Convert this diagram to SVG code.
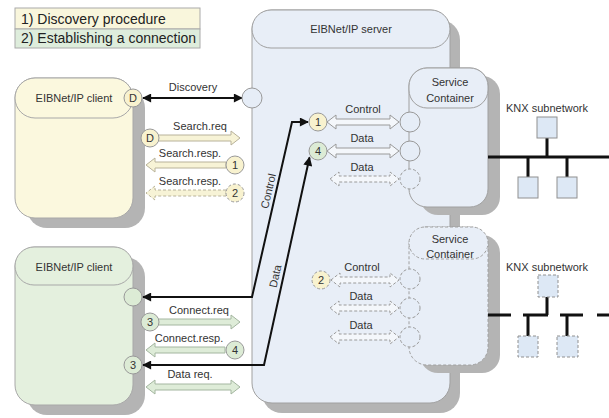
<svg xmlns="http://www.w3.org/2000/svg" width="609" height="418" viewBox="0 0 609 418">
<defs>
<style>
text{font-family:"Liberation Sans",Arial,sans-serif;font-size:11px;fill:#333}
.c{text-anchor:middle}
.lg{font-size:14px;fill:#222}
.sh{fill:#b4b4b4}
.yel{fill:#fbf8de;stroke:#a8a8a8;stroke-width:1}
.grn{fill:#e4f0de;stroke:#a8a8a8;stroke-width:1}
.blu{fill:#e8eef7;stroke:#a0a0a0;stroke-width:1}
.dash{stroke-dasharray:3 2}
.cy{fill:#f8f2cf;stroke:#999;stroke-width:1}
.cg{fill:#dcebd5;stroke:#999;stroke-width:1}
.cb{fill:#e6edf7;stroke:#999;stroke-width:1}
.ay{fill:#f7f3d6;stroke:#b8b29a;stroke-width:1}
.ag{fill:#deecd8;stroke:#a4b6a0;stroke-width:1}
.ab{fill:#f4f7fb;stroke:#9a9a9a;stroke-width:1}
.blk{fill:none;stroke:#111;stroke-width:2}
.bus{stroke:#111;stroke-width:3;fill:none}
.box{fill:#dde8f5;stroke:#909090;stroke-width:1}
</style>
<marker id="ah" viewBox="0 0 10 10" refX="9" refY="5" markerWidth="11" markerHeight="9" markerUnits="userSpaceOnUse" orient="auto-start-reverse">
<path d="M0,0 L10,5 L0,10 z" fill="#111"/>
</marker>
</defs>

<g id="legend">
<rect x="15" y="8" width="185" height="21" fill="#f9f6dc" stroke="#aaa"/>
<rect x="15" y="29" width="185" height="19" fill="#deeddc" stroke="#aaa"/>
<text class="lg" x="21" y="24">1) Discovery procedure</text>
<text class="lg" x="21" y="43">2) Establishing a connection</text>
</g>

<g id="server">
<rect class="sh" x="262" y="20" width="198" height="393" rx="20"/>
<rect class="blu" x="252" y="10" width="198" height="393" rx="20"/>
<rect class="blu" x="252" y="10" width="198" height="38" rx="19"/>
<text class="c" x="351" y="33">EIBNet/IP server</text>
</g>

<g id="client1">
<rect class="sh" x="27" y="88" width="118" height="140" rx="20"/>
<rect class="yel" x="15" y="78" width="118" height="140" rx="20"/>
<rect class="yel" x="15" y="78" width="118" height="40" rx="20"/>
<text class="c" x="74" y="102">EIBNet/IP client</text>
</g>

<g id="client2">
<rect class="sh" x="27" y="257" width="118" height="158" rx="20"/>
<rect class="grn" x="15" y="247" width="118" height="158" rx="20"/>
<rect class="grn" x="15" y="247" width="118" height="38" rx="19"/>
<text class="c" x="74" y="271">EIBNet/IP client</text>
</g>

<g id="container1">
<rect class="sh" x="420" y="76" width="80" height="139" rx="18"/>
<rect class="blu" x="409" y="68" width="79" height="139" rx="18"/>
<rect class="blu" x="409" y="68" width="79" height="40" rx="18"/>
<text class="c" x="450" y="86">Service</text>
<text class="c" x="450" y="102">Container</text>
<circle class="cb" cx="410" cy="122" r="10"/>
<circle class="cb" cx="410" cy="151" r="10"/>
<circle class="cb dash" cx="410" cy="179" r="10"/>
</g>

<g id="container2">
<rect class="sh" x="420" y="235" width="80" height="138" rx="18"/>
<rect class="blu dash" x="409" y="227" width="79" height="138" rx="18"/>
<rect class="blu dash" x="409" y="227" width="79" height="32" rx="16"/>
<text class="c" x="450" y="243">Service</text>
<text class="c" x="450" y="258">Container</text>
<circle class="cb dash" cx="410" cy="279" r="10"/>
<circle class="cb dash" cx="410" cy="308" r="10"/>
<circle class="cb dash" cx="410" cy="337" r="10"/>
</g>

<g id="knx1">
<text class="c" x="547" y="112">KNX subnetwork</text>
<path class="bus" d="M488 157 L609 157 M547 138 L547 157 M528 157 L528 177 M567 157 L567 177"/>
<rect class="box" x="537" y="117" width="20" height="21"/>
<rect class="box" x="518" y="177" width="20" height="21"/>
<rect class="box" x="557" y="177" width="20" height="21"/>
</g>

<g id="knx2">
<text class="c" x="547" y="271">KNX subnetwork</text>
<path class="bus" d="M488 315 L511 315 M523 315 L548 315 M547 297 L547 315 M560 315 L583 315 M597 315 L609 315 M528 315 L528 336 M567 315 L567 336"/>
<rect class="box dash" x="538" y="275" width="20" height="22"/>
<rect class="box dash" x="518" y="336" width="20" height="21"/>
<rect class="box dash" x="557" y="336" width="21" height="21"/>
</g>

<g id="connectors">
<!-- discovery -->
<line class="blk" x1="143" y1="98" x2="242" y2="98" marker-start="url(#ah)" marker-end="url(#ah)"/>
<text class="c" x="193" y="91">Discovery</text>
<!-- search -->
<path class="ay" d="M158 135 L231 135 L231 131 L240 138 L231 145 L231 141 L158 141 Z"/>
<text class="c" x="200" y="130">Search.req</text>
<path class="ay" d="M226 162 L155 162 L155 158 L146 165 L155 172 L155 168 L226 168 Z"/>
<text class="c" x="190" y="157">Search.resp.</text>
<path class="ay dash" d="M226 190 L155 190 L155 186 L146 193 L155 200 L155 196 L226 196 Z"/>
<text class="c" x="190" y="185">Search.resp.</text>
<!-- server internal arrows -->
<path class="ab" d="M327 122 L336 115 L336 119 L390 119 L390 115 L399 122 L390 129 L390 125 L336 125 L336 129 Z"/>
<text class="c" x="363" y="113">Control</text>
<path class="ab" d="M327 151 L336 144 L336 148 L390 148 L390 144 L399 151 L390 158 L390 154 L336 154 L336 158 Z"/>
<text class="c" x="362" y="142">Data</text>
<path class="ab dash" d="M330 179 L339 172 L339 176 L390 176 L390 172 L399 179 L390 186 L390 182 L339 182 L339 186 Z"/>
<text class="c" x="362" y="171">Data</text>
<path class="ab dash" d="M331 280 L340 273 L340 277 L390 277 L390 273 L399 280 L390 287 L390 283 L340 283 L340 287 Z"/>
<text class="c" x="362" y="271">Control</text>
<path class="ab dash" d="M330 308 L339 301 L339 305 L390 305 L390 301 L399 308 L390 315 L390 311 L339 311 L339 315 Z"/>
<text class="c" x="361" y="300">Data</text>
<path class="ab dash" d="M330 337 L339 330 L339 334 L390 334 L390 330 L399 337 L390 344 L390 340 L339 340 L339 344 Z"/>
<text class="c" x="361" y="329">Data</text>
<!-- connect -->
<path class="ag" d="M158 319 L231 319 L231 315 L240 322 L231 329 L231 325 L158 325 Z"/>
<text class="c" x="199" y="314">Connect.req</text>
<path class="ag" d="M225 347 L155 347 L155 343 L146 350 L155 357 L155 353 L225 353 Z"/>
<text class="c" x="189" y="342">Connect.resp.</text>
<path class="ag" d="M146 387 L155 380 L155 384 L231 384 L231 380 L240 387 L231 394 L231 390 L155 390 L155 394 Z"/>
<text class="c" x="190" y="378">Data req.</text>
<!-- black control/data lines -->
<path class="blk" d="M143 297 L252 297 L292 122 L308 122" marker-start="url(#ah)" marker-end="url(#ah)"/>
<text class="c" transform="rotate(-77 272 192)" x="272" y="192">Control</text>
<path class="blk" d="M143 365 L264 365 L309.5 157.5" marker-start="url(#ah)" marker-end="url(#ah)"/>
<text class="c" transform="rotate(-77.7 279 277)" x="279" y="277">Data</text>
</g>

<g id="ports">
<circle class="cy" cx="133" cy="98" r="9"/><text class="c" x="133" y="102">D</text>
<circle class="cb" cx="252" cy="98" r="10"/>
<circle class="cy" cx="150" cy="138" r="9"/><text class="c" x="150" y="142">D</text>
<circle class="cy" cx="235" cy="165" r="9"/><text class="c" x="235" y="169">1</text>
<circle class="cy dash" cx="235" cy="193" r="9"/><text class="c" x="235" y="197">2</text>
<circle class="cy" cx="318" cy="122" r="9"/><text class="c" x="318" y="126">1</text>
<circle class="cg" cx="318" cy="151" r="9"/><text class="c" x="318" y="155">4</text>
<circle class="cy dash" cx="321" cy="280" r="9"/><text class="c" x="321" y="284">2</text>
<circle class="cg" cx="133" cy="297" r="9"/>
<circle class="cg" cx="150" cy="322" r="9"/><text class="c" x="150" y="326">3</text>
<circle class="cg" cx="235" cy="350" r="9"/><text class="c" x="235" y="354">4</text>
<circle class="cg" cx="133" cy="365" r="9"/><text class="c" x="133" y="369">3</text>
</g>
</svg>
